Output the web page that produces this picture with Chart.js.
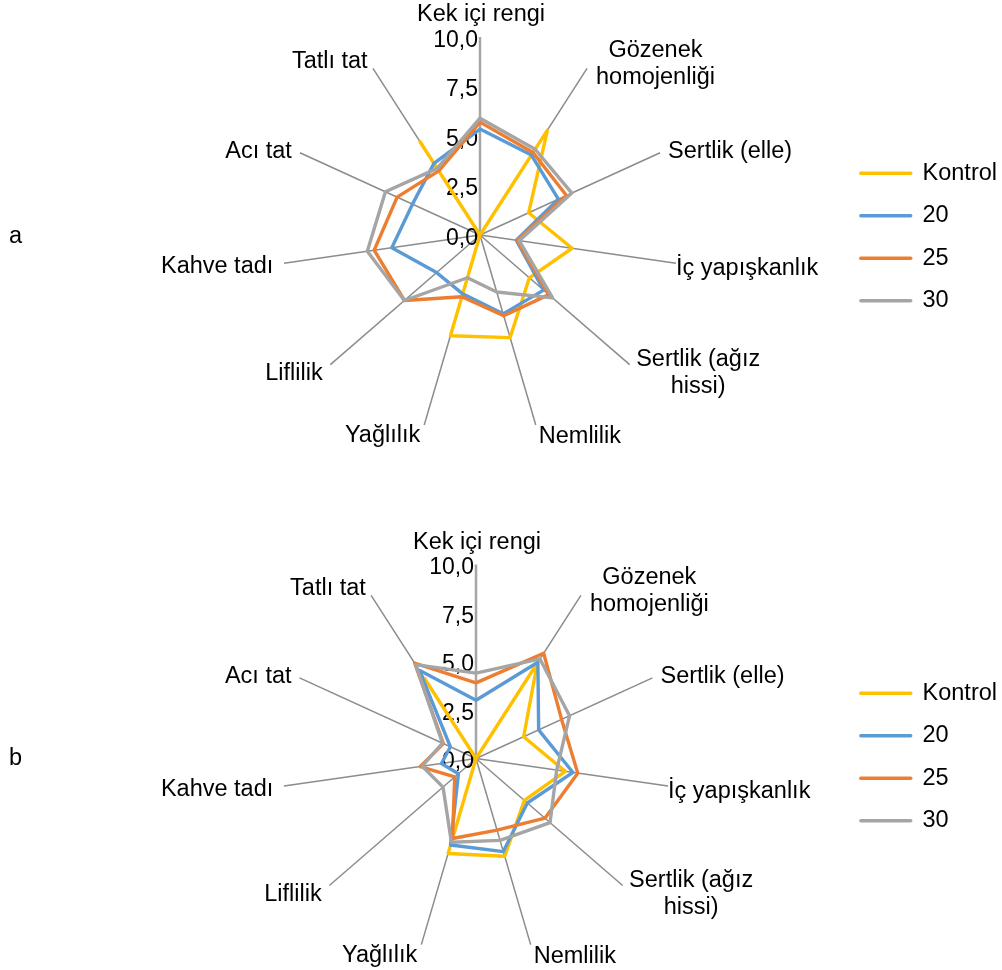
<!DOCTYPE html>
<html><head><meta charset="utf-8">
<script src="https://cdn.jsdelivr.net/npm/chart.js@4.4.1/dist/chart.umd.min.js"></script>
<style>
html,body{margin:0;padding:0;background:#fff;overflow:hidden;width:1002px;height:970px;position:relative;}
canvas{position:absolute;left:0;}
#ca{top:0;} #cb{top:485px;}
</style></head><body>
<canvas id="ca" width="1007" height="485"></canvas>
<canvas id="cb" width="1007" height="485"></canvas>
<script>
// ---- data ----
const categories = ['Kek içi rengi', ['Gözenek', 'homojenliği'], 'Sertlik (elle)', 'İç yapışkanlık',
  ['Sertlik (ağız', 'hissi)'], 'Nemlilik', 'Yağlılık', 'Liflilik', 'Kahve tadı', 'Acı tat', 'Tatlı tat'];
const seriesNames = ['Kontrol', '20', '25', '30'];
const aKontrol = [0, 6.3, 2.7, 4.7, 3.3, 5.4, 5.3, 0, 0, 0, 5.6];
const a20 = [5.35, 4.8, 4.35, 1.85, 4.25, 4.15, 3.1, 2.9, 4.5, 3.75, 4.3];
const a25 = [5.7, 4.95, 4.8, 1.9, 4.6, 4.25, 3.25, 5.05, 5.4, 4.6, 3.85];
const a30 = [5.9, 5.15, 5.1, 2.0, 4.85, 3.0, 2.25, 5.05, 5.75, 5.25, 4.0];
const bKontrol = [0, 5.85, 2.7, 4.65, 3.3, 5.25, 5.1, 0, 0, 0, 4.9];
const b20 = [3.0, 5.9, 3.55, 5.05, 3.5, 5.0, 4.65, 1.2, 1.8, 1.45, 5.4];
const b25 = [3.9, 6.45, 4.85, 5.3, 4.7, 3.85, 4.3, 1.45, 2.9, 1.85, 5.85];
const b30 = [4.4, 6.1, 5.3, 4.2, 5.05, 4.4, 4.5, 2.25, 2.8, 1.9, 5.75];
const tickValues = [0, 2.5, 5, 7.5, 10];
const tickLabels = ['0,0', '2,5', '5,0', '7,5', '10,0'];

// ---- styles / layout ----
const seriesColors = ['#FFC000', '#5B9BD5', '#ED7D31', '#A5A5A5'];
const FONT = '"Liberation Sans", Arial, sans-serif';
Chart.defaults.font.family = FONT;
const labelLayout = [
  {align: 'center', dx: 1, dy: -22},
  {align: 'left', dx: 9, dy: -4.4},
  {align: 'left', dx: 8, dy: -1},
  {align: 'left', dx: 0, dy: 5},
  {align: 'left', dx: 6.5, dy: 8.3},
  {align: 'left', dx: 3, dy: 12},
  {align: 'right', dx: -4, dy: 11},
  {align: 'right', dx: -7.7, dy: 8.6},
  {align: 'right', dx: -10.7, dy: 3},
  {align: 'right', dx: -8, dy: -1.7},
  {align: 'right', dx: -5.3, dy: -6.7}
];

const tickPlugin = {
  id: 'tickText',
  beforeDatasetsDraw(chart) {
    const s = chart.scales.r, ctx = chart.ctx;
    ctx.save();
    ctx.fillStyle = '#000';
    ctx.textBaseline = 'middle';
    ctx.textAlign = 'right';
    ctx.font = '23px ' + FONT;
    tickValues.forEach((v, k) => {
      const p = s.getPointPosition(0, s.getDistanceFromCenterForValue(v));
      ctx.fillText(tickLabels[k], p.x - 2, p.y + 3.5);
    });
    ctx.restore();
  }
};
const labelPlugin = {
  id: 'catText',
  afterDraw(chart, args, opts) {
    const s = chart.scales.r, ctx = chart.ctx;
    ctx.save();
    ctx.fillStyle = '#000';
    ctx.textBaseline = 'middle';
    ctx.font = '23.5px ' + FONT;
    chart.data.labels.forEach((lab, i) => {
      const lines = Array.isArray(lab) ? lab : [lab];
      const L = labelLayout[i];
      const p = s.getPointPosition(i, s.getDistanceFromCenterForValue(s.max));
      const ax = p.x + L.dx, ay = p.y + L.dy;
      const w = Math.max(...lines.map(t => ctx.measureText(t).width));
      let left = L.align === 'left' ? ax : (L.align === 'right' ? ax - w : ax - w / 2);
      const lh = 27;
      ctx.textAlign = 'center';
      lines.forEach((t, k) => {
        ctx.fillText(t, left + w / 2, ay + (k - (lines.length - 1) / 2) * lh);
      });
    });
    ctx.textAlign = 'left';
    ctx.fillText(opts.letter, 9, opts.letterY);
    ctx.restore();
  }
};

function makeChart(id, series, center, radius, pad, letter, letterY) {
  return new Chart(document.getElementById(id), {
    type: 'radar',
    data: {
      labels: categories,
      datasets: seriesNames.map((n, k) => ({
        label: n, data: series[k],
        borderColor: seriesColors[k], backgroundColor: 'rgba(0,0,0,0)',
        borderWidth: 3.4, fill: false, pointRadius: 0, pointHoverRadius: 0, pointHitRadius: 0,
        borderJoinStyle: 'round', borderCapStyle: 'round',
        order: seriesNames.length - k, clip: false
      }))
    },
    options: {
      responsive: false, animation: false, events: [],
      layout: {padding: pad},
      plugins: {
        tooltip: {enabled: false},
        legend: {
          position: 'right', align: 'center',
          labels: {
            usePointStyle: true, pointStyle: 'line', pointStyleWidth: 50, padding: 19,
            font: {size: 23.5, family: FONT}, color: '#000',
            generateLabels: (c) => c.data.datasets.map((d, i) => ({
              text: d.label, strokeStyle: d.borderColor, fillStyle: 'rgba(0,0,0,0)',
              lineWidth: 3.3, lineCap: 'round', pointStyle: 'line', hidden: false,
              datasetIndex: i, fontColor: '#000'
            }))
          }
        },
        catText: {letter, letterY}
      },
      scales: {
        r: {
          min: 0, max: 10,
          ticks: {display: false, stepSize: 2.5},
          grid: {display: false},
          pointLabels: {display: false},
          angleLines: {
            display: true,
            color: (c) => c.index === 0 ? '#a6a6a6' : '#8c8c8c',
            lineWidth: (c) => c.index === 0 ? 2.5 : 1.5
          },
          afterFit: (s) => { s.xCenter = center[0]; s.yCenter = center[1]; s.drawingArea = radius; }
        }
      }
    },
    plugins: [tickPlugin, labelPlugin]
  });
}

makeChart('ca', [aKontrol, a20, a25, a30], [480, 235], 198, {top: 0, bottom: 11, left: 0, right: 0}, 'a', 237);
makeChart('cb', [bKontrol, b20, b25, b30], [476, 273.5], 194, {top: 59, bottom: 0, left: 0, right: 0}, 'b', 274);
</script>
</body></html>
